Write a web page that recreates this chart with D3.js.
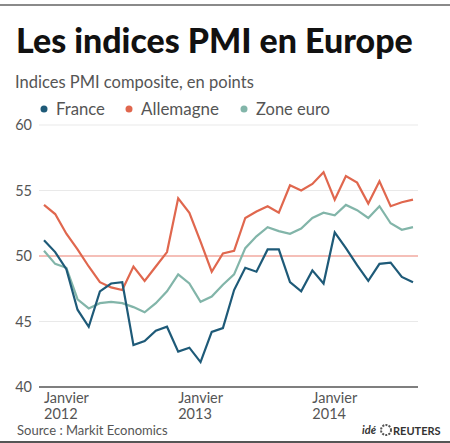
<!DOCTYPE html>
<html>
<head>
<meta charset="utf-8">
<script src="https://cdn.jsdelivr.net/npm/d3@7"></script>
<style>
  html, body { margin: 0; padding: 0; background: #fff; }
  svg { display: block; }
  text { font-family: Lato, "Open Sans", sans-serif; }
</style>
</head>
<body>
<svg id="chart" width="450" height="443"></svg>
<script>
// ---- Data (monthly composite PMI, Jan 2012 – Oct 2014) ----
const months = ["2012-01","2012-02","2012-03","2012-04","2012-05","2012-06","2012-07","2012-08","2012-09","2012-10","2012-11","2012-12",
                "2013-01","2013-02","2013-03","2013-04","2013-05","2013-06","2013-07","2013-08","2013-09","2013-10","2013-11","2013-12",
                "2014-01","2014-02","2014-03","2014-04","2014-05","2014-06","2014-07","2014-08","2014-09","2014-10"];
const france    = [51.2,50.3,49.0,45.9,44.6,47.3,47.9,48.0,43.2,43.5,44.3,44.6,
                   42.7,43.0,41.9,44.2,44.5,47.4,49.1,48.8,50.5,50.5,48.0,47.3,
                   48.9,47.9,51.8,50.6,49.3,48.1,49.4,49.5,48.4,48.0];
const allemagne = [53.9,53.2,51.7,50.5,49.2,48.0,47.6,47.4,49.2,48.1,49.2,50.3,
                   54.4,53.3,51.1,48.8,50.2,50.4,52.9,53.4,53.8,53.3,55.4,55.0,
                   55.5,56.4,54.3,56.1,55.6,54.0,55.7,53.8,54.1,54.3];
const zoneEuro  = [50.4,49.4,49.1,46.7,46.0,46.4,46.5,46.4,46.1,45.7,46.4,47.3,
                   48.6,47.9,46.5,46.9,47.8,48.6,50.6,51.5,52.2,51.9,51.7,52.1,
                   52.9,53.3,53.1,53.9,53.5,52.9,53.8,52.5,52.0,52.2];
const seriesNames = ["France","Allemagne","Zone euro"];
const yTicks = [40,45,50,55,60];
const xTickMonths = ["2012-01","2013-01","2014-01"];
const xTickLabels = [["Janvier","2012"],["Janvier","2013"],["Janvier","2014"]];

const colors = ["#1e5a78","#e0674e","#82b5a9"];
const seriesData = [france, allemagne, zoneEuro];

const svg = d3.select("#chart");

// Frame lines
svg.append("rect").attr("x",0).attr("y",4).attr("width",450).attr("height",2).attr("fill","#8a8a8a");
svg.append("rect").attr("x",0).attr("y",441).attr("width",450).attr("height",2).attr("fill","#555");

// Title, fitted to width
function fit(sel, target) {
  const w = sel.node().getComputedTextLength();
  const fs = parseFloat(sel.attr("font-size"));
  sel.attr("font-size", fs * target / w);
}
const title = svg.append("text").attr("x",16).attr("y",53)
  .attr("font-size",34).attr("font-weight",900).attr("fill","#111")
  .text("Les indices PMI en Europe");
fit(title, 397);

const sub = svg.append("text").attr("x",15).attr("y",88)
  .attr("font-size",15).attr("fill","#555")
  .text("Indices PMI composite, en points");
fit(sub, 239);

// Scales
const x = d3.scalePoint().domain(months).range([44, 413]);
const y = d3.scaleLinear().domain([40, 60]).range([387, 125]);

// Gridlines
const gx0 = 39, gx1 = 418;
svg.append("g").selectAll("line").data(yTicks.filter(t => t !== 40)).join("line")
  .attr("x1", gx0).attr("x2", gx1)
  .attr("y1", d => y(d)).attr("y2", d => y(d))
  .attr("stroke", d => d === 50 ? "#f2aaa0" : "#e9e9e9")
  .attr("stroke-width", d => d === 50 ? 1.5 : 1);

// Y labels
const yAxis = d3.axisLeft(y).tickValues(yTicks).tickSize(0).tickPadding(0);
const gy = svg.append("g").attr("transform","translate(32,0)").call(yAxis);
gy.select(".domain").remove();
gy.selectAll("text").attr("font-size",14.5).attr("fill","#555")
  .attr("font-family","Lato, 'Open Sans', sans-serif");

// Baseline axis
svg.append("line").attr("x1",gx0).attr("x2",gx1).attr("y1",y(40)).attr("y2",y(40))
  .attr("stroke","#555").attr("stroke-width",1.5);

// X labels
const xl = svg.append("g").selectAll("text").data(xTickMonths).join("text")
  .attr("x", d => x(d)).attr("y", 403)
  .attr("font-size",14.5).attr("fill","#555");
xl.each(function(d,i){
  const t = d3.select(this);
  t.append("tspan").attr("x", x(d)).attr("dy",0).text(xTickLabels[i][0]);
  t.append("tspan").attr("x", x(d)).attr("dy",16).text(xTickLabels[i][1]);
});

// Lines
const line = d3.line().x((d,i) => x(months[i])).y(d => y(d));
[2,1,0].forEach(k => {
  svg.append("path").datum(seriesData[k])
    .attr("d", line).attr("fill","none")
    .attr("stroke", colors[k]).attr("stroke-width",2.2)
    .attr("stroke-linejoin","miter");
});

// Legend
const legX = [44, 129, 244];
const legW = [49, 78, 74];
const leg = svg.append("g").selectAll("g").data(seriesNames).join("g")
  .attr("transform",(d,i)=>`translate(${legX[i]},109)`);
leg.append("circle").attr("r",3.5).attr("fill",(d,i)=>colors[i]);
leg.append("text").attr("x",12).attr("y",5.5).attr("font-size",16).attr("fill","#555").text(d=>d)
  .each(function(d,i){ fit(d3.select(this), legW[i]); });

// Source
svg.append("text").attr("x",17).attr("y",435).attr("font-size",13).attr("fill","#555")
  .text("Source : Markit Economics");

// Reuters mark
const rg = svg.append("g");
rg.append("text").attr("x",362).attr("y",434).attr("font-size",11).attr("font-style","italic")
  .attr("font-weight","bold").attr("fill","#333").text("idé");
rg.append("circle").attr("cx",386).attr("cy",430).attr("r",5).attr("fill","none")
  .attr("stroke","#555").attr("stroke-width",2).attr("stroke-dasharray","2 1.2");
rg.append("text").attr("x",393).attr("y",434.5).attr("font-size",11)
  .attr("font-weight","bold").attr("fill","#333").text("REUTERS");
</script>
</body>
</html>
